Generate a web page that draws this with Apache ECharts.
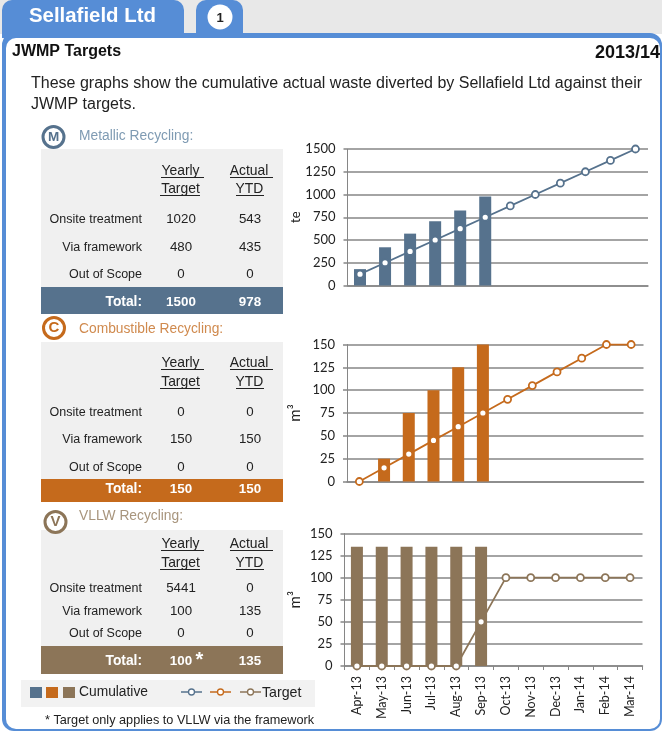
<!DOCTYPE html>
<html><head><meta charset="utf-8">
<style>html,body{margin:0;padding:0;background:#fff}#c{width:662px;height:732px}</style>
<script src="https://cdn.jsdelivr.net/npm/echarts@6/dist/echarts.min.js"></script>
</head><body><div id="c"></div>
<script>
const months = ['Apr-13','May-13','Jun-13','Jul-13','Aug-13','Sep-13','Oct-13','Nov-13','Dec-13','Jan-14','Feb-14','Mar-14'];
const metallicActual = [180,420,570,705,825,978];
const metallicTarget = [125,250,375,500,625,750,875,1000,1125,1250,1375,1500];
const combustibleActual = [0,25,75,100,125,150];
const combustibleTarget = [0,15,30,45,60,75,90,105,120,135,150,150];
const vllwActual = [135,135,135,135,135,135];
const vllwTarget = [0,0,0,0,0,50,100,100,100,100,100,100];
const rowLabels = ['Onsite treatment','Via framework','Out of Scope'];
const metallicRows = [['1020','543'],['480','435'],['0','0']];
const combustibleRows = [['0','0'],['150','150'],['0','0']];
const vllwRows = [['5441','0'],['100','135'],['0','0']];
const metallicTotal = ['1500','978'];
const combustibleTotal = ['150','150'];
const vllwTotal = ['100','135'];
const BLUE='#568DD6', MET='#56728D', COM='#C56A1C', VLL='#8C7558', TXT='#222';
const SANS='"Liberation Sans", Arial, sans-serif';
const g=[];
const rect=(x,y,w,h,fill,r)=>g.push({type:'rect',silent:true,shape:{x,y,width:w,height:h,r:r||0},style:{fill}});
const text=(s,x,y,o={})=>g.push({type:'text',silent:true,z:10,style:{text:s,x,y:y+1.2,fill:o.fill||TXT,textAlign:o.align||'left',textVerticalAlign:'middle',
  font:`${o.bold?'bold ':''}${o.size||12.5}px ${o.family||SANS}`}});
const hline=(x1,x2,y,c,w)=>g.push({type:'line',silent:true,z:10,shape:{x1,y1:y,x2,y2:y},style:{stroke:c||'#222',lineWidth:w||1}});
// page frame
rect(0,0,662,34,'#E8E8E8');
rect(2,33,660,698,BLUE,12);
rect(6,38,654,691,'#fff',10);
rect(2,0,182,38,BLUE,[10,10,0,0]);
rect(196,0,47,38,BLUE,[10,10,0,0]);
g.push({type:'circle',silent:true,shape:{cx:220,cy:17,r:12.5},style:{fill:'#fff'}});
text('1',220,17,{align:'center',bold:true,size:13,fill:'#222'});
text('Sellafield Ltd',29,15.5,{bold:true,size:20.4,fill:'#fff'});
text('JWMP Targets',12,50,{bold:true,size:16,fill:'#111'});
text('2013/14',660,52,{bold:true,size:18,fill:'#111',align:'right'});
text('These graphs show the cumulative actual waste diverted by Sellafield Ltd against their',31,82.5,{size:16});
text('JWMP targets.',31,103.5,{size:16});
// tables
function table(t){
  g.push({type:'circle',silent:true,z:5,shape:{cx:t.icon[0],cy:t.icon[1],r:10.5},style:{fill:'#fff',stroke:t.color,lineWidth:3}});
  text(t.letter,t.icon[0],t.icon[1]-0.9,{align:'center',bold:true,size:t.letterSize,fill:t.color});
  text(t.title,79,t.titleY,{size:13.8,fill:t.titleColor});
  rect(41,t.top,242,t.totalTop-t.top,'#F0F0F0');
  rect(41,t.totalTop,242,t.bottom-t.totalTop,t.color);
  text('Yearly',180.5,t.hy[0],{align:'center',size:13.9});
  text('Target',180.5,t.hy[1],{align:'center',size:13.9});
  text('Actual',249,t.hy[0],{align:'center',size:13.9});
  text('YTD',249.5,t.hy[1],{align:'center',size:13.9});
  hline(161,204,t.hy[0]+7.5); hline(160,200,t.hy[1]+7.5);
  hline(230,273,t.hy[0]+7.5); hline(236,264,t.hy[1]+7.5);
  rowLabels.forEach((l,i)=>{
    text(l,142,t.ry[i],{align:'right',size:12.5});
    text(t.rows[i][0],181,t.ry[i],{align:'center',size:13.3});
    text(t.rows[i][1],250,t.ry[i],{align:'center',size:13.3});
  });
  text('Total:',142,t.ty,{align:'right',bold:true,size:13.8,fill:'#fff'});
  text(t.total[0],181,t.ty,{align:'center',bold:true,size:13.4,fill:'#fff'});
  text(t.total[1],250,t.ty,{align:'center',bold:true,size:13.4,fill:'#fff'});
}
table({letter:'M',letterSize:13.5,icon:[53.5,137],title:'Metallic Recycling:',titleY:135,titleColor:'#7F9BB3',color:MET,top:149,totalTop:287,bottom:314,hy:[170,188],ry:[218,246,273],ty:301,rows:metallicRows,total:metallicTotal});
table({letter:'C',letterSize:15,icon:[54,328],title:'Combustible Recycling:',titleY:328,titleColor:'#D08A4E',color:COM,top:342,totalTop:479,bottom:502,hy:[362,381],ry:[411.5,438,466],ty:488,rows:combustibleRows,total:combustibleTotal});
table({letter:'V',letterSize:15,icon:[55.5,522],title:'VLLW Recycling:',titleY:515,titleColor:'#A8957D',color:VLL,top:530,totalTop:646,bottom:674,hy:[543,562],ry:[587.5,610.5,632.5],ty:660,rows:vllwRows,total:vllwTotal});
text('*',199.5,659,{bold:true,size:20,fill:'#fff',align:'center'});
// legend
rect(21,680,294,27,'#F2F2F2');
[[30,MET],[46,COM],[63,VLL]].forEach(([x,c])=>rect(x,687,12,11,c));
text('Cumulative',79,690.5,{size:13.8});
[[181,MET],[210,COM],[240,VLL]].forEach(([x,c])=>{
  hline(x,x+21,692,c,1.5);
  g.push({type:'circle',silent:true,z:11,shape:{cx:x+10.5,cy:692,r:3},style:{fill:'#fff',stroke:c,lineWidth:1.3}});
});
text('Target',262,691.5,{size:14.2});
text('* Target only applies to VLLW via the framework',45,719.5,{size:12.7});

const GRID='#868686', LAB='Lato, "Open Sans", sans-serif';
const grids=[{left:347.5,top:149,width:300.5,height:136.5},{left:347,top:344.5,width:296.5,height:137},{left:344.5,top:533.5,width:298,height:132.5}];
const xAxis=grids.map((_,i)=>({type:'category',gridIndex:i,data:months,z:2,
  axisLine:{lineStyle:{color:GRID,width:1.5}},
  axisTick:{show:i===2,alignWithLabel:false,length:4,lineStyle:{color:GRID}},
  axisLabel:{show:i===2,rotate:90,fontFamily:LAB,fontSize:12.5,color:'#222',margin:10,interval:0},
  splitLine:{show:false}}));
const ya=(i,max,step,name,gap,ns)=>({type:'value',gridIndex:i,z:2,min:0,max,interval:step,name,nameLocation:'middle',nameRotate:90,nameGap:gap,nameMoveOverlap:false,
  nameTextStyle:{fontFamily:LAB,fontSize:ns,color:'#222'},
  axisLine:{show:true,lineStyle:{color:GRID}},axisTick:{show:true,length:4,lineStyle:{color:GRID,width:1.5}},
  axisLabel:{fontFamily:LAB,fontSize:13,color:'#222',margin:12,formatter:v=>String(v)},
  splitLine:{show:true,lineStyle:{color:GRID,width:1.5}}});
const yAxis=[ya(0,1500,250,'te',45.5,13),ya(1,150,25,'m\u00b3',44,15),ya(2,150,25,'m\u00b3',41.5,15)];
const pair=(i,a,t,c)=>[
  {type:'bar',xAxisIndex:i,yAxisIndex:i,data:a,barWidth:12,itemStyle:{color:c},z:3,animation:false},
  {type:'line',xAxisIndex:i,yAxisIndex:i,data:t,symbol:'circle',symbolSize:7,showAllSymbol:true,z:4,animation:false,
   lineStyle:{color:c,width:1.8},itemStyle:{color:'#fff',borderColor:c,borderWidth:1.8}}
];
const chart=echarts.init(document.getElementById('c'),null,{renderer:'canvas'});
chart.setOption({animation:false,grid:grids,xAxis,yAxis,
  series:[...pair(0,metallicActual,metallicTarget,MET),...pair(1,combustibleActual,combustibleTarget,COM),...pair(2,vllwActual,vllwTarget,VLL)],
  graphic:{elements:g.map(e=>Object.assign({z:e.z||1},e))}
});
</script></body></html>
